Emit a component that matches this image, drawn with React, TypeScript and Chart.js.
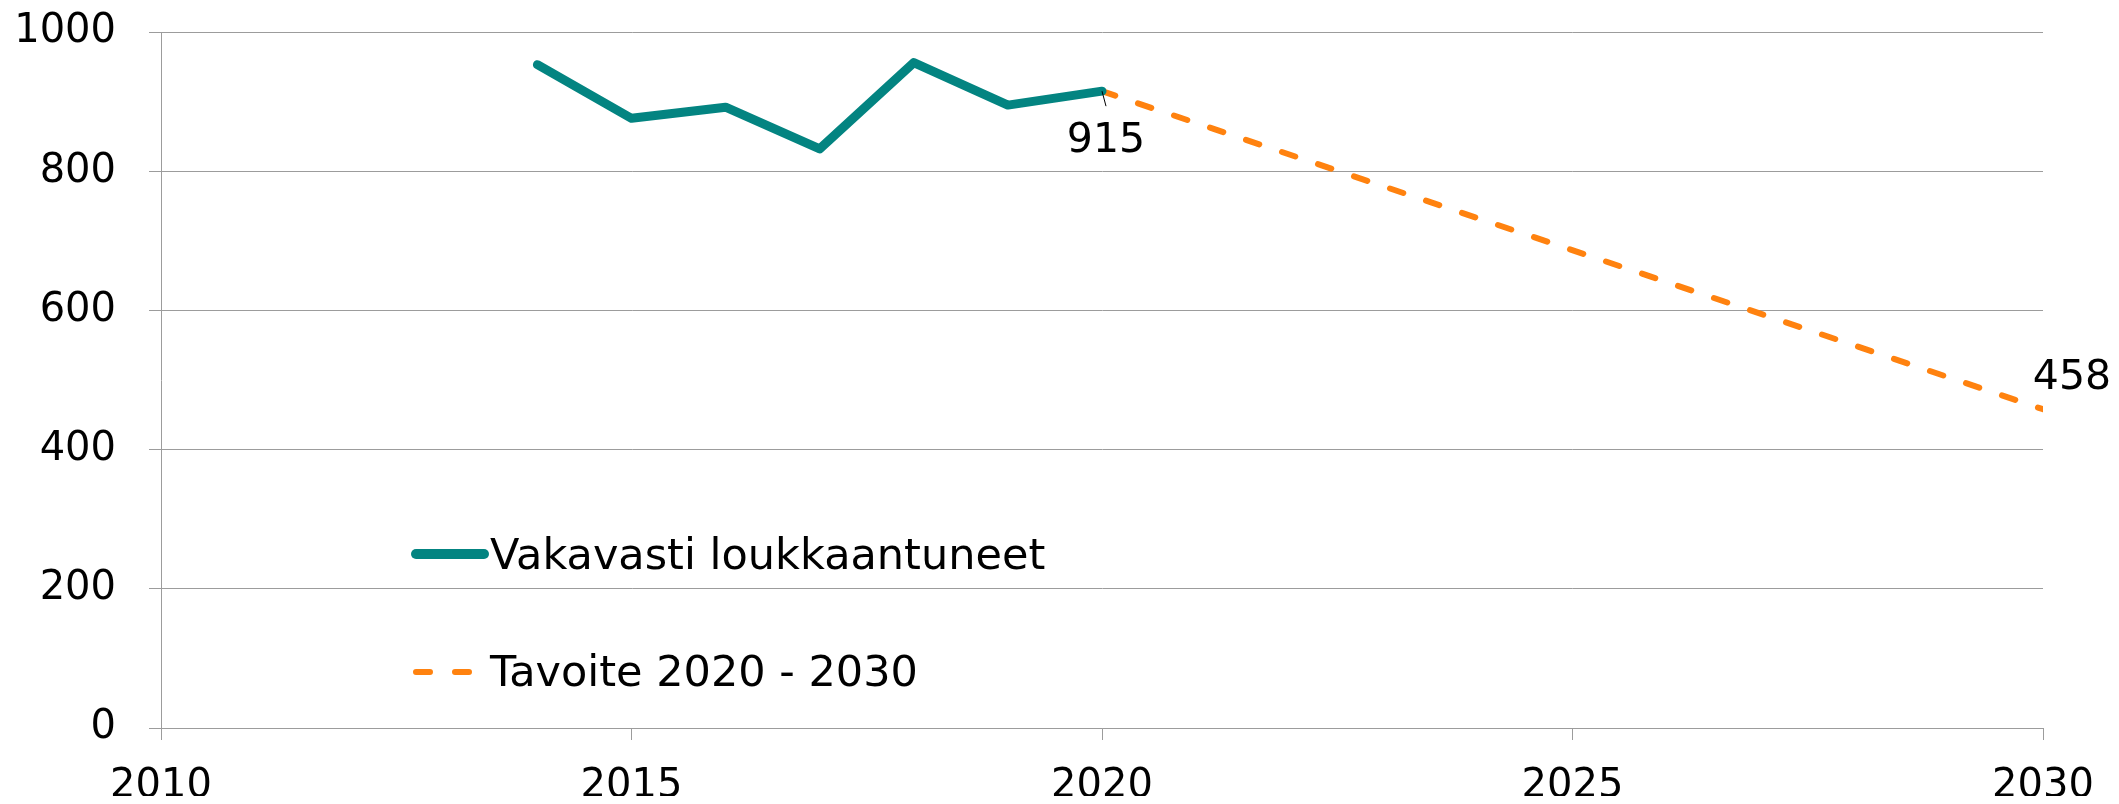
import React, { useEffect, useRef } from "react";
import { Chart, registerables } from "chart.js";

Chart.register(...registerables);

const years = [2014, 2015, 2016, 2017, 2018, 2019, 2020];
const injured = [953, 876, 892, 832, 956, 895, 915];
const targetYears = [2020, 2030];
const targetValues = [915, 458];
const xTicks = [2010, 2015, 2020, 2025, 2030];
const yTicks = [0, 200, 400, 600, 800, 1000];
const seriesNames = ["Vakavasti loukkaantuneet", "Tavoite 2020 - 2030"];

const FONT = "'DejaVu Sans', Verdana, sans-serif";
const TICK_SIZE = 40;
const LABEL_SIZE = 41;
const LEGEND_SIZE = 43;
const TEAL = "#038481";
const ORANGE = "#ff820f";
const GRID = "#9c9c9c";

const overlay = {
  id: "overlay",
  afterDatasetsDraw(chart: any) {
    const ctx = chart.ctx;
    const xs = chart.scales.x;
    const ys = chart.scales.y;
    ctx.save();
    ctx.font = `${LABEL_SIZE}px ${FONT}`;
    ctx.fillStyle = "#000";
    ctx.textAlign = "center";
    ctx.textBaseline = "middle";

    // label for last observed value with leader line
    const lastIdx = injured.length - 1;
    const px = xs.getPixelForValue(years[lastIdx]);
    const py = ys.getPixelForValue(injured[lastIdx]);
    ctx.strokeStyle = "#000";
    ctx.lineWidth = 1;
    ctx.beginPath();
    ctx.moveTo(px, py);
    ctx.lineTo(px + 4, py + 15);
    ctx.stroke();
    ctx.fillText(String(injured[lastIdx]), px + 4, py + 50);

    // label for target end value
    const tIdx = targetValues.length - 1;
    const tx = xs.getPixelForValue(targetYears[tIdx]);
    const ty = ys.getPixelForValue(targetValues[tIdx]);
    ctx.fillText(String(targetValues[tIdx]), tx + 29, ty - 31);

    // legend inside plot area
    const ly1 = 546;
    const ly2 = 664;
    ctx.lineCap = "round";
    ctx.strokeStyle = TEAL;
    ctx.lineWidth = 10;
    ctx.setLineDash([]);
    ctx.beginPath();
    ctx.moveTo(408, ly1);
    ctx.lineTo(476, ly1);
    ctx.stroke();

    ctx.strokeStyle = ORANGE;
    ctx.lineWidth = 6;
    ctx.setLineDash([14, 25]);
    ctx.beginPath();
    ctx.moveTo(408, ly2);
    ctx.lineTo(462, ly2);
    ctx.stroke();
    ctx.setLineDash([]);

    ctx.font = `${LEGEND_SIZE}px ${FONT}`;
    ctx.textAlign = "left";
    ctx.fillText(seriesNames[0], 482, ly1 + 4);
    ctx.fillText(seriesNames[1], 482, ly2 + 3);
    ctx.restore();
  },
};

export default function App() {
  const ref = useRef<HTMLCanvasElement | null>(null);
  useEffect(() => {
    if (!ref.current) return;
    const chart = new Chart(ref.current, {
      type: "line",
      data: {
        datasets: [
          {
            label: seriesNames[0],
            data: years.map((y, i) => ({ x: y, y: injured[i] })),
            borderColor: TEAL,
            backgroundColor: TEAL,
            borderWidth: 9,
            pointRadius: 0,
            borderJoinStyle: "round",
            borderCapStyle: "round",
            tension: 0,
          },
          {
            label: seriesNames[1],
            data: targetYears.map((y, i) => ({ x: y, y: targetValues[i] })),
            borderColor: ORANGE,
            backgroundColor: ORANGE,
            borderWidth: 6,
            borderDash: [14, 24],
            borderCapStyle: "round",
            pointRadius: 0,
            tension: 0,
          },
        ],
      },
      options: {
        animation: false,
        responsive: false,
        layout: { padding: { top: 24, right: 68, left: 0, bottom: 0 } },
        plugins: { legend: { display: false }, tooltip: { enabled: false } },
        scales: {
          x: {
            type: "linear",
            min: xTicks[0],
            max: xTicks[xTicks.length - 1],
            afterBuildTicks: (s: any) => {
              s.ticks = xTicks.map((v) => ({ value: v }));
            },
            afterFit: (s: any) => {
              s.height = 76;
              s.paddingLeft = 0;
              s.paddingRight = 0;
            },
            ticks: {
              callback: (v: any) => String(v),
              font: { family: FONT, size: TICK_SIZE },
              color: "#000",
              padding: 23,
              maxRotation: 0,
              autoSkip: false,
            },
            grid: {
              drawOnChartArea: false,
              drawTicks: true,
              tickLength: 12,
              color: GRID,
              lineWidth: 1,
            },
            border: { display: true, color: GRID, width: 1 },
          },
          y: {
            min: yTicks[0],
            max: yTicks[yTicks.length - 1],
            afterBuildTicks: (s: any) => {
              s.ticks = yTicks.map((v) => ({ value: v }));
            },
            afterFit: (s: any) => {
              s.width = 153;
              s.paddingTop = 0;
              s.paddingBottom = 0;
            },
            ticks: {
              callback: (v: any) => String(v),
              font: { family: FONT, size: TICK_SIZE },
              color: "#000",
              padding: 33,
              autoSkip: false,
            },
            grid: {
              color: GRID,
              lineWidth: 1,
              tickLength: 12,
            },
            border: { display: true, color: GRID, width: 1 },
          },
        },
      },
      plugins: [overlay],
    } as any);
    return () => chart.destroy();
  }, []);
  return (
    <div style={{ width: 2103, height: 796, marginBottom: -8, overflow: "visible" }}>
      <canvas ref={ref} width={2103} height={796} style={{ display: "block", width: 2103, height: 796 }} />
    </div>
  );
}
